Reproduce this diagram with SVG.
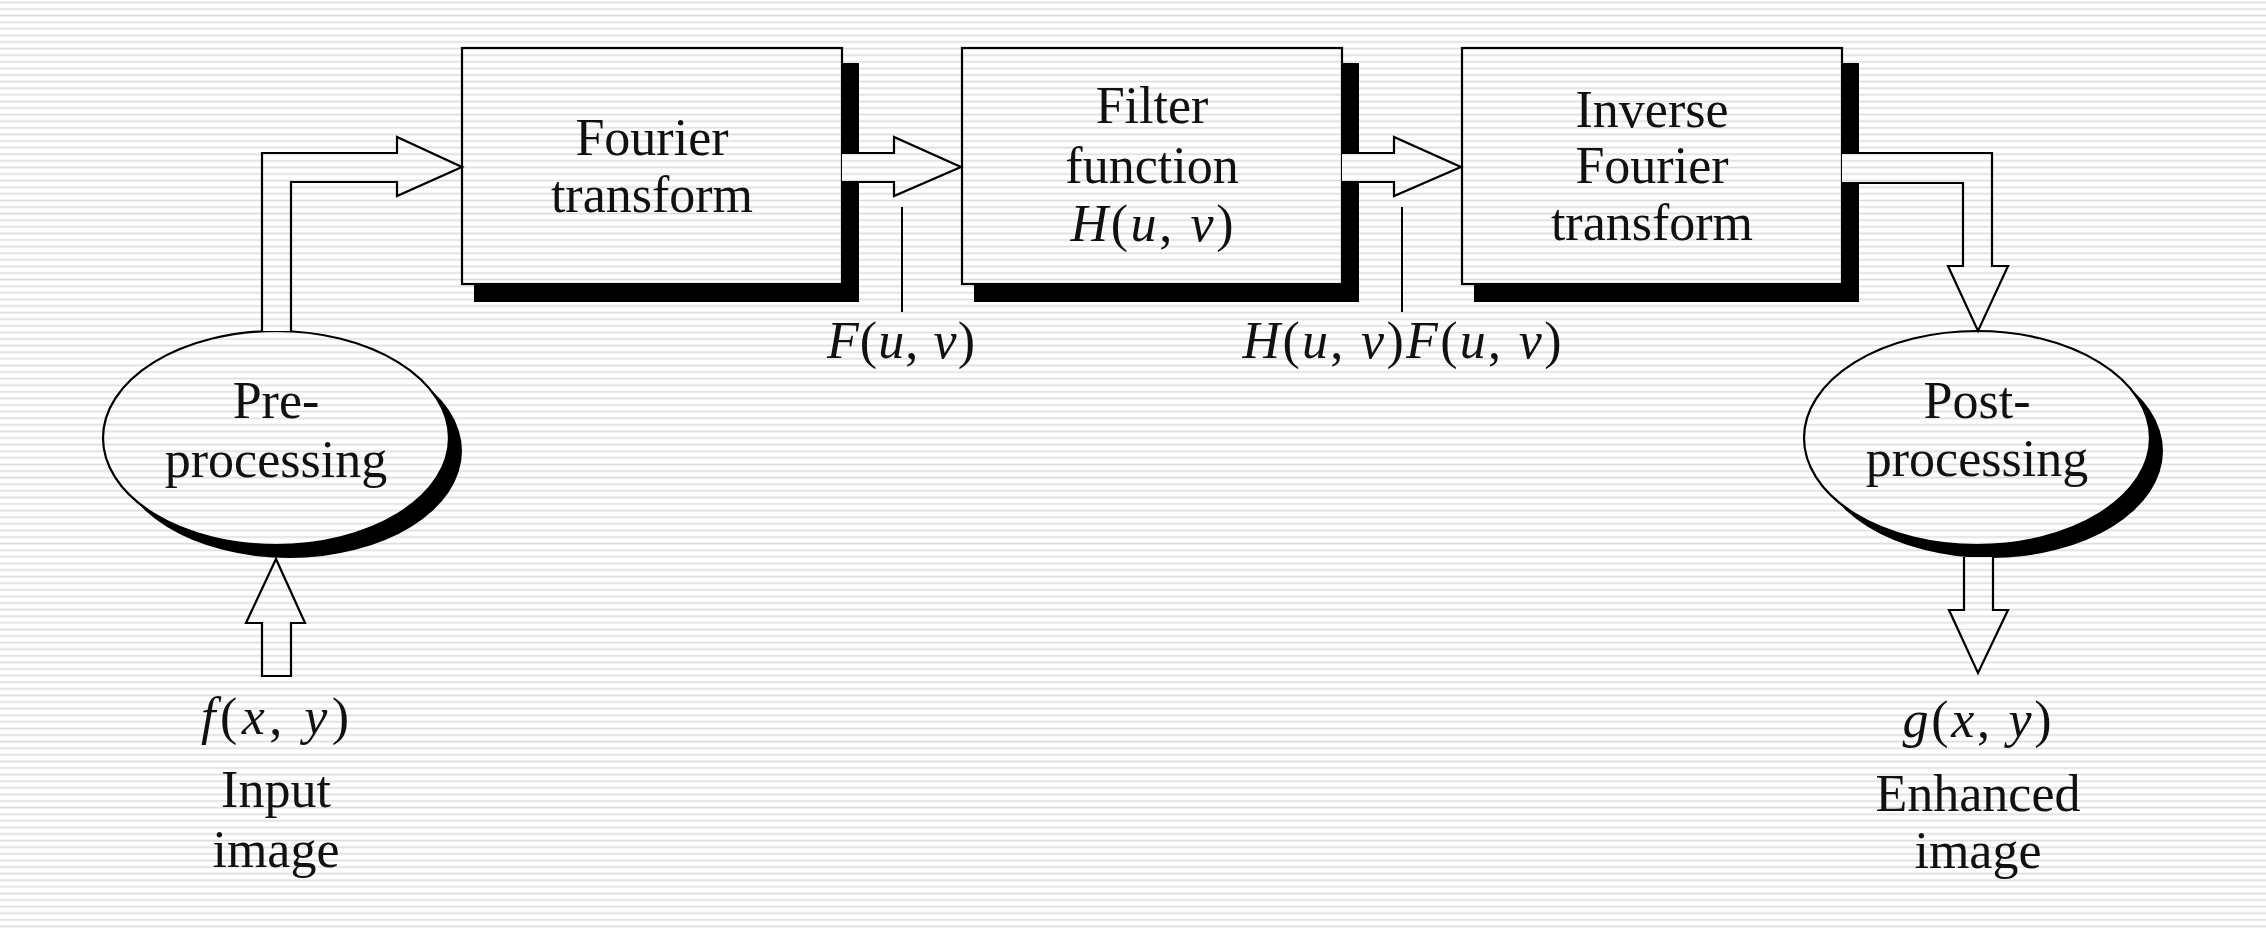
<svg xmlns="http://www.w3.org/2000/svg" width="2266" height="928" viewBox="0 0 2266 928">
<defs>
<pattern id="bg" patternUnits="userSpaceOnUse" x="0" y="0" width="20" height="6.6">
<rect x="0" y="0" width="20" height="6.6" fill="#ffffff"/>
<rect x="0" y="1.6" width="20" height="1.4" fill="#dcdcdc"/>
<rect x="0" y="3" width="20" height="0.8" fill="#efefef"/>
</pattern>
</defs>
<style>
.t{font-family:"Liberation Serif","Times New Roman",serif;font-size:52px;fill:#111;text-anchor:middle}
.m{font-family:"Liberation Serif","Times New Roman",serif;font-size:52px;fill:#111;text-anchor:middle}
.i{font-style:italic}
.box{fill:url(#bg);stroke:#000;stroke-width:2.2}
.shadow{fill:#000;stroke:none}
.arrow{fill:url(#bg);stroke:#000;stroke-width:2.2;stroke-linejoin:miter}
.tick{stroke:#000;stroke-width:2;fill:none}
</style>
<rect x="0" y="0" width="2266" height="928" fill="url(#bg)"/>

<g id="pre-processing">
<ellipse class="shadow" cx="289" cy="451" rx="173" ry="107"/>
<ellipse class="box" cx="276" cy="438" rx="173" ry="107"/>
<text class="t" x="276" y="418">Pre-</text>
<text class="t" x="276" y="477">processing</text>
</g>

<g id="fourier-transform">
<rect class="shadow" x="474" y="63" width="385" height="239"/>
<rect class="box" x="462" y="48" width="380" height="236"/>
<text class="t" x="652" y="155">Fourier</text>
<text class="t" x="652" y="212">transform</text>
</g>

<g id="filter-function">
<rect class="shadow" x="974" y="63" width="385" height="239"/>
<rect class="box" x="962" y="48" width="380" height="236"/>
<text class="t" x="1152" y="123">Filter</text>
<text class="t" x="1152" y="183">function</text>
<text class="m" x="1152" y="241" textLength="163" lengthAdjust="spacing"><tspan class="i">H</tspan>(<tspan class="i">u</tspan>, <tspan class="i">v</tspan>)</text>
</g>

<g id="inverse-fourier-transform">
<rect class="shadow" x="1474" y="63" width="385" height="239"/>
<rect class="box" x="1462" y="48" width="380" height="236"/>
<text class="t" x="1652" y="127">Inverse</text>
<text class="t" x="1652" y="183">Fourier</text>
<text class="t" x="1652" y="240">transform</text>
</g>

<g id="post-processing">
<ellipse class="shadow" cx="1990" cy="451" rx="173" ry="107"/>
<ellipse class="box" cx="1977" cy="438" rx="173" ry="107"/>
<text class="t" x="1977" y="418">Post-</text>
<text class="t" x="1977" y="476">processing</text>
</g>

<g id="input">
<text class="m" x="275" y="734" textLength="148" lengthAdjust="spacing"><tspan class="i">f</tspan>(<tspan class="i">x</tspan>, <tspan class="i">y</tspan>)</text>
<text class="t" x="276" y="807">Input</text>
<text class="t" x="276" y="867">image</text>
</g>

<g id="output">
<text class="m" x="1977" y="737" textLength="149" lengthAdjust="spacing"><tspan class="i">g</tspan>(<tspan class="i">x</tspan>, <tspan class="i">y</tspan>)</text>
<text class="t" x="1978" y="811">Enhanced</text>
<text class="t" x="1978" y="868">image</text>
</g>

<g id="connectors">
<path class="arrow" d="M262,331 L262,153 L397,153 L397,137 L462,167 L397,196 L397,182 L291,182 L291,331"/>
<path class="arrow" d="M842,153 L894,153 L894,137 L961,167 L894,196 L894,182 L842,182"/>
<path class="arrow" d="M1342,153 L1394,153 L1394,137 L1461,167 L1394,196 L1394,182 L1342,182"/>
<path class="arrow" d="M1842,153 L1992,153 L1992,266 L2008,266 L1978,331 L1948,266 L1963,266 L1963,183 L1842,183"/>
<path class="arrow" d="M262,676 L262,623 L246,623 L276,559 L305,623 L291,623 L291,676 Z"/>
<path class="arrow" d="M1964,557 L1964,610 L1949,610 L1978,673 L2008,610 L1993,610 L1993,557"/>
<line class="tick" x1="902" y1="207" x2="902" y2="312"/>
<line class="tick" x1="1402" y1="207" x2="1402" y2="312"/>
<text class="m" x="901" y="358" textLength="148" lengthAdjust="spacing"><tspan class="i">F</tspan>(<tspan class="i">u</tspan>, <tspan class="i">v</tspan>)</text>
<text class="m" x="1402" y="358" textLength="319" lengthAdjust="spacing"><tspan class="i">H</tspan>(<tspan class="i">u</tspan>, <tspan class="i">v</tspan>)<tspan class="i">F</tspan>(<tspan class="i">u</tspan>, <tspan class="i">v</tspan>)</text>
</g>
</svg>
